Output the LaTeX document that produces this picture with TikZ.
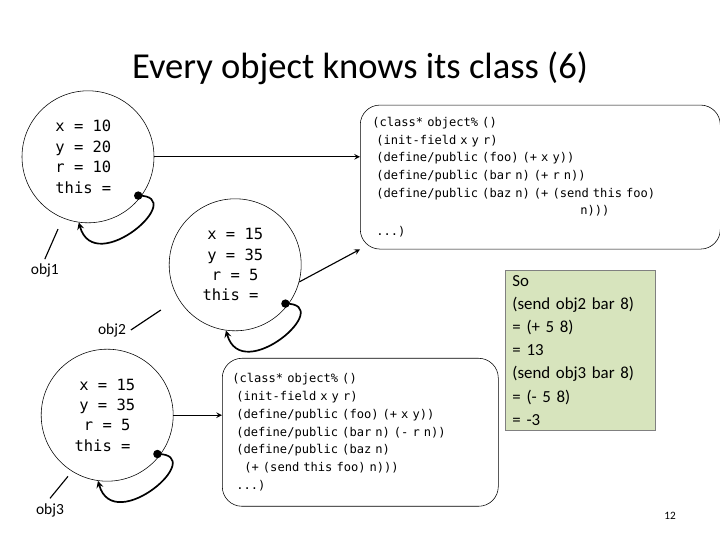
\documentclass[tikz,border=0pt]{standalone}
\usepackage{fontspec}
\setmainfont{Carlito}
\setmonofont{DejaVu Sans Mono}
\usetikzlibrary{positioning}

\begin{document}
\begin{tikzpicture}[>=stealth,
    obj/.style={draw,circle,minimum size=3.3cm,inner sep=0pt,font=\ttfamily\fontsize{11}{14.5}\selectfont},
    cls/.style={draw,rounded corners=14pt,align=left,font=\ttfamily\fontsize{8.6}{12.6}\selectfont,anchor=north west},
    tag/.style={font=\fontsize{11}{13}\selectfont}]
    % page size
    \useasboundingbox (0,0) rectangle (18,13.5);

    % title
    \node[font=\fontsize{26}{30}\selectfont] (title) at (9,11.8) {Every object knows its class (6)};

    % the three objects
    \node[obj,align=left] (o1) at (2.2,9.58) {x = 10\\y = 20\\r = 10\\this =\phantom{x}};
    \node[obj,align=center] (o2) at (5.88,6.88) {x = 15\\y = 35\\r = 5\\this =\phantom{x}};
    \node[obj,align=center] (o3) at (2.68,3.12) {x = 15\\y = 35\\r = 5\\this =\phantom{x}};

    % the two classes
    \node[cls,minimum width=9cm,minimum height=3.6cm,text width=8.4cm] (c1) at (9,10.88)
      {(class* object\% ()\\
       \ (init-field x y r)\\
       \ (define/public (foo) (+ x y))\\
       \ (define/public (bar n) (+ r n))\\
       \ (define/public (baz n) (+ (send this foo)\\
       \hspace{5.2cm}n)))\\[2pt]
       \ ...)};
    \node[cls,minimum width=6.9cm,minimum height=3.7cm,text width=6.4cm] (c2) at (5.55,4.55)
      {(class* object\% ()\\
       \ (init-field x y r)\\
       \ (define/public (foo) (+ x y))\\
       \ (define/public (bar n) (- r n))\\
       \ (define/public (baz n)\\
       \ \ \ (+ (send this foo) n)))\\
       \ ...)};

    % worked example
    \node[draw=gray,fill={rgb,255:red,215;green,228;blue,189},anchor=north west,
          minimum width=3.75cm,minimum height=4cm,align=left,text width=3.4cm,
          font=\fontsize{12}{16.5}\selectfont] (note) at (12.63,6.75)
      {So\\(send obj2 bar 8)\\= (+ 5 8)\\= 13\\(send obj3 bar 8)\\= (- 5 8)\\= -3};

    % object -> class
    \draw[->,thick] (o1.east) -- (o1.east -| c1.west);
    \draw[->,thick] (o2.-15) -- (c1.south west);
    \draw[->,thick] (o3.east) -- (o3.east -| c2.west);

    % this pointers
    \foreach \o in {o1,o2,o3} {
      \fill (\o.-38) ++(-0.05,0.05) coordinate (\o d) circle (3pt);
      \draw[->,very thick] (\o d) .. controls +(1.3,0) and +(0.4,-1.4) .. (\o.-98);
    }

    % names
    \node[tag] (n1) at (1.12,6.73) {obj1};
    \node[tag] (n2) at (2.8,5.25) {obj2};
    \node[tag] (n3) at (1.25,0.75) {obj3};
    \draw[thick] (n1.north) -- ++(0.33,0.75);
    \draw[thick] (n2.east) -- ++(0.75,0.5);
    \draw[thick] (n3.north) -- ++(0.45,0.55);

    % page number
    \node[font=\fontsize{8}{10}\selectfont] (page) at (16.75,0.6) {12};
\end{tikzpicture}
\end{document}
